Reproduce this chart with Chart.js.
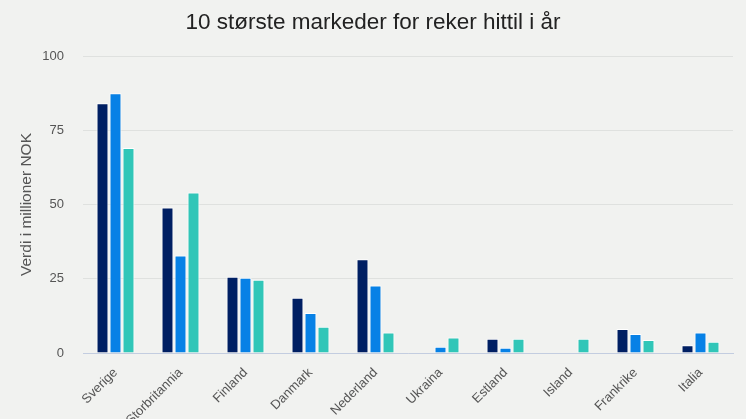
<!DOCTYPE html>
<html>
<head>
<meta charset="utf-8">
<script src="https://cdn.jsdelivr.net/npm/chart.js@4"></script>
<style>
  html, body { margin: 0; padding: 0; background: #f1f2f0; }
  .wrap { width: 746px; height: 419px; position: relative; }
</style>
</head>
<body>
<div class="wrap"><canvas id="chart"></canvas></div>
<script>
const labels = ['Sverige', 'Storbritannia', 'Finland', 'Danmark', 'Nederland', 'Ukraina', 'Estland', 'Island', 'Frankrike', 'Italia'];
const series1 = [84.1, 49.0, 25.7, 18.6, 31.6, 0, 4.8, 0, 8.1, 2.6];
const series2 = [87.5, 32.8, 25.3, 13.5, 22.7, 2.1, 1.8, 0, 6.4, 6.9];
const series3 = [69.0, 54.0, 24.7, 8.8, 6.9, 5.2, 4.8, 4.8, 4.4, 3.8];
const yTicks = [0, 25, 50, 75, 100];

const font = 'Liberation Sans, Arial, sans-serif';

const mkSet = (data, color) => ({
    data: data,
    backgroundColor: color,
    borderColor: '#ffffff',
    borderWidth: 1,
    categoryPercentage: 0.6,
    barPercentage: 0.92
});

const config = {
    type: 'bar',
    data: {
        labels: labels,
        datasets: [
            mkSet(series1, '#001f63'),
            mkSet(series2, '#0781e6'),
            mkSet(series3, '#31c6b8')
        ]
    },
    options: {
        responsive: true,
        maintainAspectRatio: false,
        animation: false,
        layout: { padding: 0 },
        plugins: {
            legend: { display: false },
            tooltip: { enabled: false },
            title: {
                display: true,
                text: '10 største markeder for reker hittil i år',
                color: '#222222',
                font: { family: font, size: 22.5, weight: 'normal' },
                padding: { top: 9, bottom: 20 }
            }
        },
        scales: {
            x: {
                afterFit: (axis) => { axis.height = 66; },
                grid: { display: false },
                border: { color: '#c3cde0', width: 1 },
                ticks: {
                    color: '#555555',
                    font: { family: font, size: 13 },
                    maxRotation: 45,
                    minRotation: 45,
                    autoSkip: false,
                    padding: 4
                }
            },
            y: {
                min: 0,
                max: 100,
                afterBuildTicks: (axis) => {
                    axis.ticks = yTicks.map(v => ({ value: v }));
                },
                afterFit: (axis) => { axis.width = 83; },
                grid: { color: '#dfe1df', drawTicks: false },
                border: { display: false },
                ticks: {
                    color: '#555555',
                    font: { family: font, size: 13 },
                    padding: 19
                },
                title: {
                    display: true,
                    text: 'Verdi i millioner NOK',
                    color: '#555555',
                    font: { family: font, size: 15.5 },
                    padding: { top: 17, bottom: 0 }
                }
            },
            // empty right-hand axis, only keeps 13px free on the right
            yRight: {
                position: 'right',
                afterFit: (axis) => { axis.width = 13; },
                grid: { display: false },
                border: { display: false },
                ticks: { display: false }
            }
        }
    }
};

const myChart = new Chart(document.getElementById('chart'), config);
</script>
</body>
</html>
